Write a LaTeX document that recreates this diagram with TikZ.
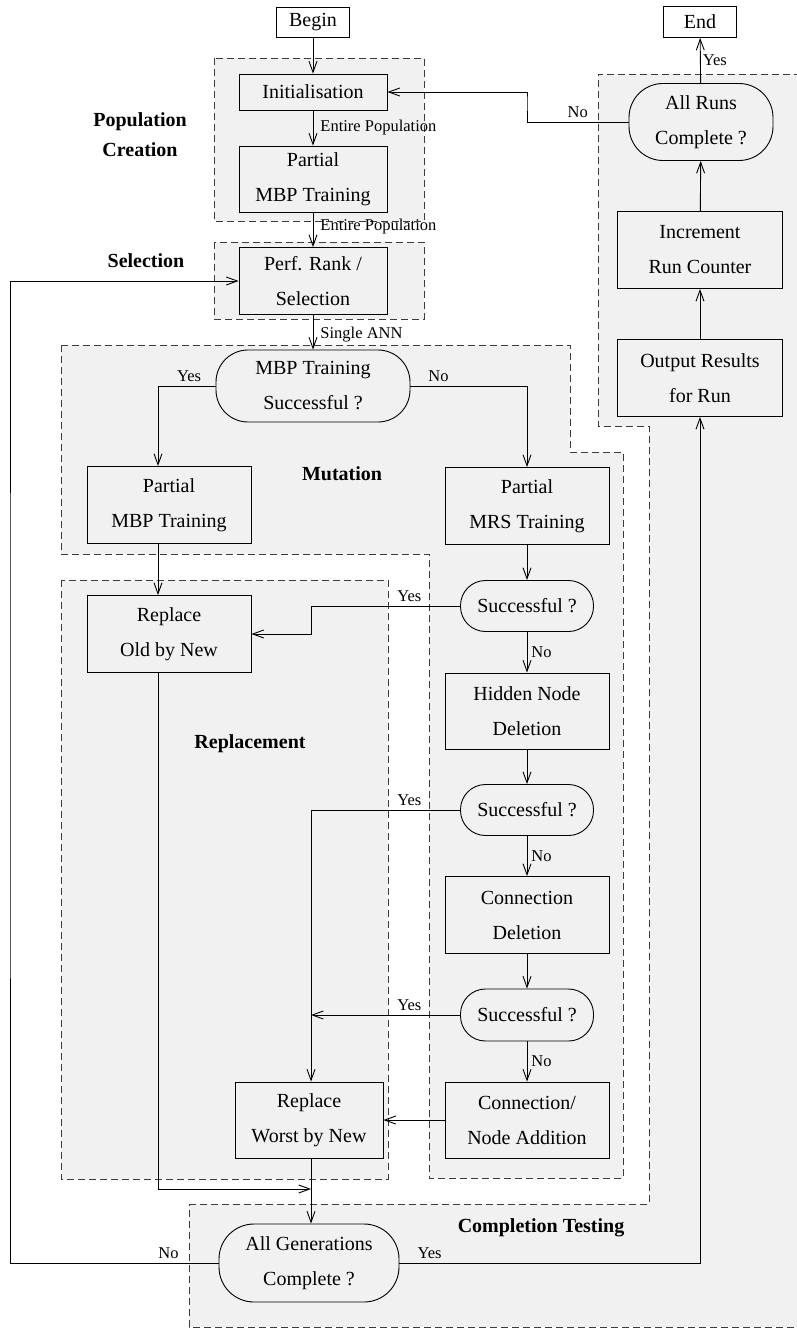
\documentclass[tikz,border=0pt]{standalone}
\usepackage{fontspec}
\setmainfont{Liberation Serif}
\usetikzlibrary{arrows.meta,calc}
\definecolor{regionbg}{RGB}{241,241,241}
\definecolor{dashc}{RGB}{60,60,60}
\tikzset{
  region/.style={fill=regionbg, draw=dashc, line width=0.9pt, dash pattern=on 7pt off 4pt},
  box/.style={draw, line width=0.9pt, align=center, font=\fontsize{20}{35}\selectfont, inner sep=0pt},
  decision/.style={box, rounded corners=#1},
  decision/.default=30pt,
  arr/.style={-{Straight Barb[length=11pt,width=8pt]}, line width=0.9pt},
  conn/.style={line width=0.9pt},
  lbl/.style={font=\fontsize{16.5}{18}\selectfont, inner sep=4pt},
  regtitle/.style={font=\fontsize{20}{30}\selectfont\bfseries, align=center, inner sep=0pt},
}
\begin{document}
\begin{tikzpicture}[x=1pt,y=-1pt]
\useasboundingbox (0,0) rectangle (796,1328);
% ---- regions ----
\path[region] (214,58) rectangle (424,221);
\path[region] (214,242) rectangle (424,319);
\path[region] (61,345) -- (570,345) -- (570,452) -- (623,452) -- (623,1178) -- (429,1178) -- (429,554) -- (61,554) -- cycle;
\path[region] (61,580) rectangle (388,1179);
\path[region] (189,1204) -- (649,1204) -- (649,426) -- (598,426) -- (598,74) -- (800,74) -- (800,1327) -- (189,1327) -- cycle;
% ---- region titles ----
\node[regtitle] (tPop) at (140,135) {Population\\Creation};
\node[regtitle] (tSel) at (146,261) {Selection};
\node[regtitle] (tMut) at (342,474) {Mutation};
\node[regtitle] (tRep) at (250,744) {Replacement};
\node[regtitle] (tComp) at (541,1228) {Completion Testing};
% ---- column coordinates ----
\coordinate (colL) at (158,0);
\coordinate (colM) at (311,0);
\coordinate (farL) at (10,700);
\coordinate (nr) at (527,100);
\coordinate (merge) at (311,1189);
% ---- nodes ----
\node[box, minimum width=73pt, minimum height=30pt] (begin) at (313,22) {Begin};
\node[box, minimum width=148pt, minimum height=36pt] (init) at (313,92) {Initialisation};
\node[box, minimum width=148pt, minimum height=66pt] (pmbpt) at (313,179) {Partial\\MBP Training};
\node[box, minimum width=148pt, minimum height=67pt] (perf) at (313,281) {Perf. Rank /\\Selection};
\node[decision=32pt, minimum width=194pt, minimum height=72pt] (mbpq) at (313,386) {MBP Training\\Successful ?};
\node[box, minimum width=164pt, minimum height=77pt] (pmbpl) at (169,505) {Partial\\MBP Training};
\node[box, minimum width=164pt, minimum height=77pt] (pmrs) at (527,506) {Partial\\MRS Training};
\node[decision=25pt, minimum width=133pt, minimum height=51pt] (s1) at (527,606) {Successful ?};
\node[box, minimum width=164pt, minimum height=76pt] (hnd) at (527,711) {Hidden Node\\Deletion};
\node[decision=25pt, minimum width=133pt, minimum height=51pt] (s2) at (527,810) {Successful ?};
\node[box, minimum width=164pt, minimum height=77pt] (cd) at (527,915) {Connection\\Deletion};
\node[decision=25pt, minimum width=133pt, minimum height=52pt] (s3) at (527,1015) {Successful ?};
\node[box, minimum width=164pt, minimum height=76pt] (cna) at (527,1120) {Connection/\\Node Addition};
\node[box, minimum width=164pt, minimum height=77pt] (rold) at (169,634) {Replace\\Old by New};
\node[box, minimum width=148pt, minimum height=76pt] (rwst) at (309,1120) {Replace\\Worst by New};
\node[decision=35pt, minimum width=180pt, minimum height=78pt] (allgen) at (309,1263) {All Generations\\Complete ?};
\node[box, minimum width=73pt, minimum height=31pt] (end) at (700,22) {End};
\node[decision=34pt, minimum width=144pt, minimum height=77pt] (allruns) at (701,122) {All Runs\\Complete ?};
\node[box, minimum width=165pt, minimum height=77pt] (incr) at (700,250) {Increment\\Run Counter};
\node[box, minimum width=165pt, minimum height=77pt] (out) at (700,378) {Output Results\\for Run};
% ---- connectors ----
\draw[arr] (begin) -- (init);
\draw[arr] (init) -- node[lbl, right, xshift=3pt] {Entire Population} (pmbpt);
\draw[arr] (pmbpt) -- node[lbl, right, xshift=3pt, yshift=3pt] {Entire Population} (perf);
\draw[arr] (perf) -- node[lbl, right, xshift=3pt, yshift=-2pt] {Single ANN} (mbpq);
\draw[arr] (mbpq.west) -| node[lbl, above, pos=0.23] {Yes} (pmbpl.north -| colL);
\draw[arr] (mbpq.east) -| node[lbl, above, pos=0.12] {No} (pmrs.north);
\draw[arr] (pmbpl.south -| colL) -- (rold.north -| colL);
\draw[arr] (pmrs) -- (s1);
\draw[arr] (s1.west) -- node[lbl, above, pos=0.34] {Yes} (s1.west -| colM) |- (rold.east);
\draw[arr] (s1) -- node[lbl, right] {No} (hnd);
\draw[arr] (hnd) -- (s2);
\draw[arr] (s2.west) -| node[lbl, above, pos=0.17] {Yes} (rwst.north -| colM);
\draw[arr] (s2) -- node[lbl, right] {No} (cd);
\draw[arr] (cd) -- (s3);
\draw[arr] (s3.west) -- node[lbl, above, pos=0.34] {Yes} (s3.west -| colM);
\draw[arr] (s3) -- node[lbl, right] {No} (cna);
\draw[arr] (cna.west) -- (cna.west -| rwst.east);
\draw[arr] (rold.south -| colL) |- (merge);
\draw[arr] (rwst.south -| colM) -- (allgen.north -| colM);
\draw[arr] (allgen.west) -| node[lbl, above, pos=0.12] {No} (farL) |- (perf.west);
\draw[arr] (allgen.east) -| node[lbl, above, pos=0.05] {Yes} (out.south);
\draw[arr] (out) -- (incr);
\draw[arr] (incr) -- (allruns);
\draw[arr] (allruns) -- node[lbl, right, inner sep=2pt] {Yes} (end);
\draw[arr] (allruns.west) -| node[lbl, above, pos=0.25] {No} (nr) |- (init.east);
\end{tikzpicture}
\end{document}
